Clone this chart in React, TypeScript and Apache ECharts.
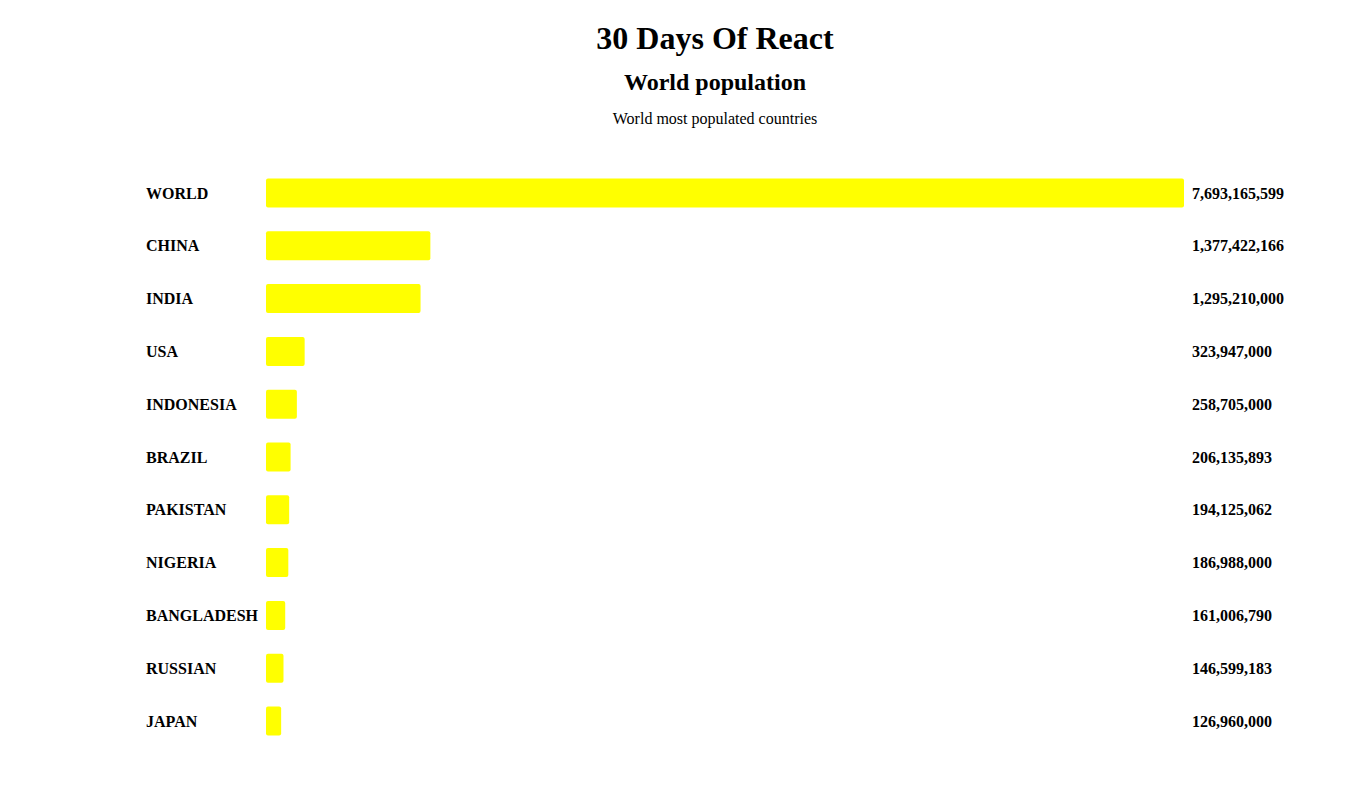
import React, { useEffect, useRef } from "react";
import * as echarts from "echarts";

const countries = ["WORLD", "CHINA", "INDIA", "USA", "INDONESIA", "BRAZIL", "PAKISTAN", "NIGERIA", "BANGLADESH", "RUSSIAN", "JAPAN"];
const populations = [7693165599, 1377422166, 1295210000, 323947000, 258705000, 206135893, 194125062, 186988000, 161006790, 146599183, 126960000];
const titleText = "30 Days Of React";
const subtitleText = "World population";
const captionText = "World most populated countries";

const FONT = "'Liberation Serif', 'Times New Roman', serif";

export default function App() {
  const ref = useRef<HTMLDivElement>(null);
  useEffect(() => {
    if (!ref.current) return;
    const chart = echarts.init(ref.current, null, { renderer: "svg" });
    const fmt = (v: number) => v.toLocaleString("en-US");
    chart.setOption({
      animation: false,
      backgroundColor: "#fff",
      graphic: [
        { type: "text", x: 715, y: 38, style: { text: titleText, font: `bold 32px ${FONT}`, fill: "#000", align: "center", verticalAlign: "middle" } },
        { type: "text", x: 715, y: 82, style: { text: subtitleText, font: `bold 24px ${FONT}`, fill: "#000", align: "center", verticalAlign: "middle" } },
        { type: "text", x: 715, y: 118, style: { text: captionText, font: `16px ${FONT}`, fill: "#000", align: "center", verticalAlign: "middle" } },
      ],
      grid: { left: 266, right: 182, top: 166.6, bottom: 49.6, containLabel: false },
      xAxis: { type: "value", min: 0, max: populations[0], show: false },
      yAxis: [
        {
          type: "category",
          data: countries,
          inverse: true,
          position: "left",
          axisLine: { show: false },
          axisTick: { show: false },
          splitLine: { show: false },
          axisLabel: { align: "left", margin: 120, color: "#000", fontWeight: "bold", fontSize: 16, fontFamily: FONT },
        },
        {
          type: "category",
          data: populations.map(fmt),
          inverse: true,
          position: "right",
          axisLine: { show: false },
          axisTick: { show: false },
          splitLine: { show: false },
          axisLabel: { align: "left", margin: 8, color: "#000", fontWeight: "bold", fontSize: 16, fontFamily: FONT },
        },
      ],
      series: [
        {
          type: "bar",
          data: populations,
          yAxisIndex: 0,
          barWidth: 29,
          itemStyle: { color: "#ffff00", borderRadius: 2 },
        },
      ],
    });
    return () => chart.dispose();
  }, []);
  return <div ref={ref} style={{ position: "absolute", left: 0, top: 0, width: 1366, height: 797 }} />;
}
